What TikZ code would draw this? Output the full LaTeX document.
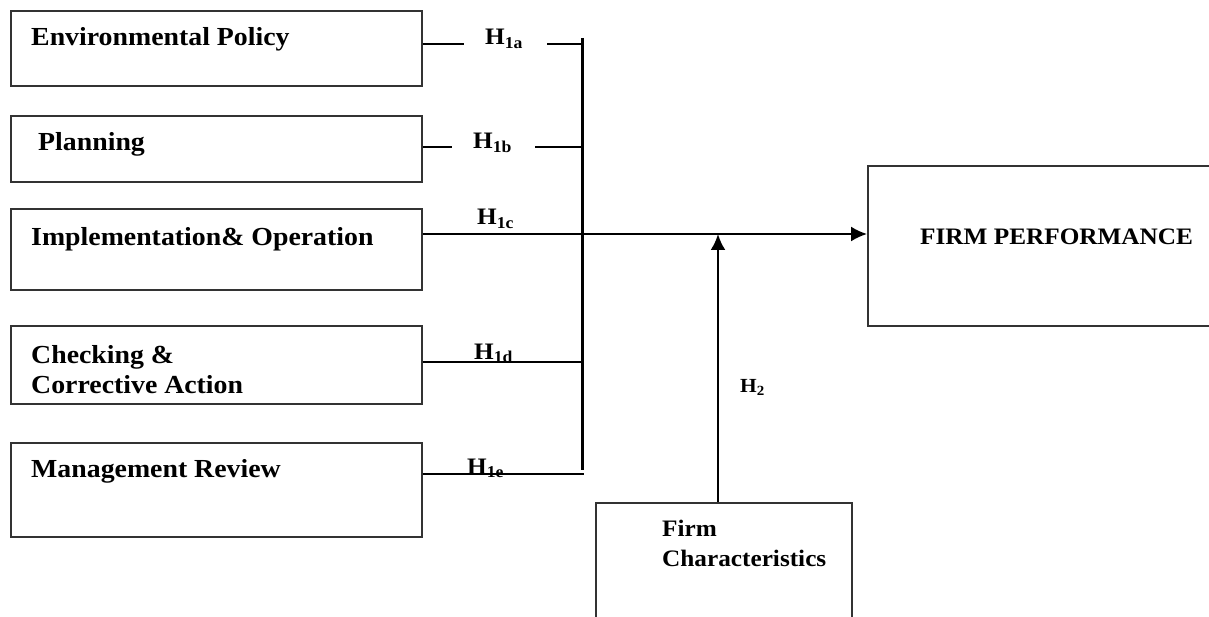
\documentclass[tikz,border=0pt]{standalone}
\usepackage{fontspec}
\setmainfont[FakeStretch=1.07]{Liberation Serif}
\usetikzlibrary{arrows.meta}
\newcommand{\bw}{411pt}

\begin{document}
\begin{tikzpicture}[x=1pt,y=-1pt,
    box/.style={draw, rectangle, anchor=north west, minimum width=\bw, inner sep=0pt, line width=1.6pt, draw=black!80},
    txt/.style={anchor=base west, inner sep=0pt, font=\bfseries\fontsize{26}{30}\selectfont},
    rtxt/.style={txt, font=\bfseries\fontsize{23.6}{28}\selectfont},
    hyp/.style={anchor=base west, inner sep=0pt, font=\bfseries\fontsize{23.6}{28}\selectfont},
    conn/.style={line width=2pt},
    tip/.style={-{Latex[length=16pt,width=15pt]}}]
    \clip (0,0) rectangle (1209,617);

    % left column
    \node[box, minimum height=75pt] (ep) at (10,10) {};
    \node[box, minimum height=66pt] (pl) at (10,115) {};
    \node[box, minimum height=81pt] (io) at (10,208) {};
    \node[box, minimum height=78pt] (cc) at (10,325) {};
    \node[box, minimum height=94pt] (mr) at (10,442) {};

    \node[txt] (ep-t) at (31,46) {Environmental Policy};
    \node[txt] (pl-t) at (38,151) {Planning};
    \node[txt] (io-t) at (31,246) {Implementation\& Operation};
    \node[txt] (cc-t1) at (31,363) {Checking \&};
    \node[txt] (cc-t2) at (31,393) {Corrective Action};
    \node[txt] (mr-t) at (31,477) {Management Review};

    % right side
    \node[box, minimum width=380pt, minimum height=160pt] (fp) at (867,165) {};
    \node[rtxt] (fp-t) at (920,245) {FIRM PERFORMANCE};
    \node[box, minimum width=256pt, minimum height=140pt] (fc) at (595,502) {};
    \node[rtxt] (fc-t1) at (662,536) {Firm};
    \node[rtxt] (fc-t2) at (662,566) {Characteristics};

    % hypotheses
    \node[hyp] (h1a) at (485,45) {H\textsubscript{1a}};
    \node[hyp] (h1b) at (473,149) {H\textsubscript{1b}};
    \node[hyp] (h1c) at (477,225) {H\textsubscript{1c}};
    \node[hyp] (h1d) at (474,359) {H\textsubscript{1d}};
    \node[hyp] (h1e) at (467,474) {H\textsubscript{1e}};
    \node[hyp, font=\bfseries\fontsize{20}{24}\selectfont] (h2) at (740,392) {H\textsubscript{2}};

    \coordinate (bartop) at (582,38);
    \coordinate (barbot) at (582,470);
    \coordinate (a1) at (464,44);
    \coordinate (a2) at (547,44);
    \coordinate (b1) at (452,147);
    \coordinate (b2) at (535,147);
    \coordinate (hit) at (718,234);

    \draw[line width=3pt] (bartop) -- (barbot);
    \draw[conn] (ep.east |- a1) -- (a1);
    \draw[conn] (a2) -- (a2 -| bartop);
    \draw[conn, line width=2.6pt] (pl.east |- b1) -- (b1);
    \draw[conn, line width=2.6pt] (b2) -- (b2 -| bartop);
    \draw[conn, tip] (io.east |- hit) -- (fp.west |- hit);
    \draw[conn, line width=2.4pt] (cc.east |- 0,362) -- (bartop |- 0,362);
    \draw[conn, line width=1.5pt] (mr.east |- 0,474) -- ([xshift=2pt]bartop |- 0,474);
    \draw[conn, line width=2.4pt, tip] (fc.north -| hit) -- (hit);
\end{tikzpicture}
\end{document}
